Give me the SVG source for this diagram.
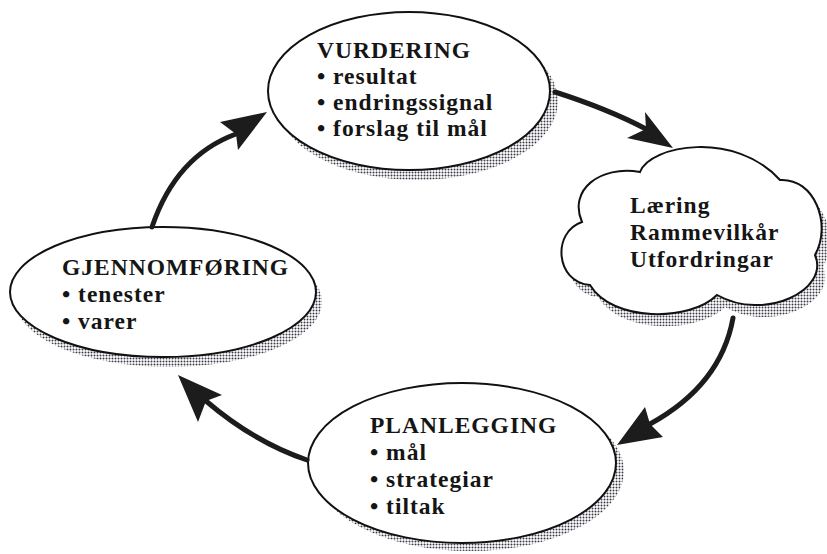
<svg xmlns="http://www.w3.org/2000/svg" width="827" height="554" viewBox="0 0 827 554">
  <defs>
    <!-- halftone dot screen used for the drop shadows -->
    <pattern id="dots" width="3" height="3" patternUnits="userSpaceOnUse">
      <circle cx="1.5" cy="1.5" r="1" fill="#3a3a48"/>
    </pattern>
  </defs>
  <style>
    .shadow { fill: url(#dots); stroke: none; }
    .shape { fill: #ffffff; stroke: #111; stroke-width: 2; }
    .label { font-family: "Liberation Serif", "Times New Roman", serif; font-weight: bold; font-size: 23.5px; letter-spacing: 1px; fill: #151515; }
    .shaft { fill: none; stroke: #1c1c1c; stroke-width: 5; stroke-linecap: round; }
    .head { fill: #1c1c1c; stroke: none; }
  </style>

  <rect width="827" height="554" fill="#ffffff"/>

  <!-- VURDERING -->
  <g id="vurdering">
    <ellipse class="shadow" cx="417" cy="101" rx="141" ry="79"/>
    <ellipse class="shape" cx="409" cy="91" rx="141" ry="79"/>
    <text class="label" x="317" y="58">VURDERING</text>
    <text class="label" x="317" y="84">• resultat</text>
    <text class="label" x="317" y="110">• endringssignal</text>
    <text class="label" x="317" y="136">• forslag til mål</text>
  </g>

  <!-- Cloud: Læring / Rammevilkår / Utfordringar -->
  <g id="laering">
    <path class="shadow" transform="translate(8,12)" d="M640,172 C650,145 735,130 780,180 C815,178 832,225 815,255 C830,290 765,322 717,295 C690,322 612,322 590,285 C555,282 552,232 582,222 C568,190 600,165 640,172 Z"/>
    <path class="shape" d="M640,172 C650,145 735,130 780,180 C815,178 832,225 815,255 C830,290 765,322 717,295 C690,322 612,322 590,285 C555,282 552,232 582,222 C568,190 600,165 640,172 Z"/>
    <text class="label" x="630" y="213">Læring</text>
    <text class="label" x="630" y="240">Rammevilkår</text>
    <text class="label" x="630" y="267">Utfordringar</text>
  </g>

  <!-- PLANLEGGING -->
  <g id="planlegging">
    <ellipse class="shadow" cx="470" cy="471" rx="154" ry="80"/>
    <ellipse class="shape" cx="462" cy="463" rx="154" ry="80"/>
    <text class="label" x="370" y="433">PLANLEGGING</text>
    <text class="label" x="370" y="460">• mål</text>
    <text class="label" x="370" y="487">• strategiar</text>
    <text class="label" x="370" y="514">• tiltak</text>
  </g>

  <!-- GJENNOMFØRING -->
  <g id="gjennomforing">
    <ellipse class="shadow" cx="169" cy="302" rx="153" ry="65"/>
    <ellipse class="shape" cx="163" cy="292" rx="153" ry="65"/>
    <text class="label" x="62" y="275">GJENNOMFØRING</text>
    <text class="label" x="62" y="302">• tenester</text>
    <text class="label" x="62" y="329">• varer</text>
  </g>

  <!-- cycle arrows -->
  <g id="connectors">
    <path class="shaft" d="M555,92 Q608,109 646,129"/>
    <polygon class="head" points="673,148 645,112 646,129 627,138"/>

    <path class="shaft" d="M733,318 Q721,385 650,424"/>
    <polygon class="head" points="617,445 645,407 650,424 663,437"/>

    <path class="shaft" d="M307,460 Q254,442 206,401"/>
    <polygon class="head" points="178,375 222,395 206,401 198,422"/>

    <path class="shaft" d="M152,227 Q176,156 236,134"/>
    <polygon class="head" points="267,112 220,122 236,134 238,150"/>
  </g>
</svg>
